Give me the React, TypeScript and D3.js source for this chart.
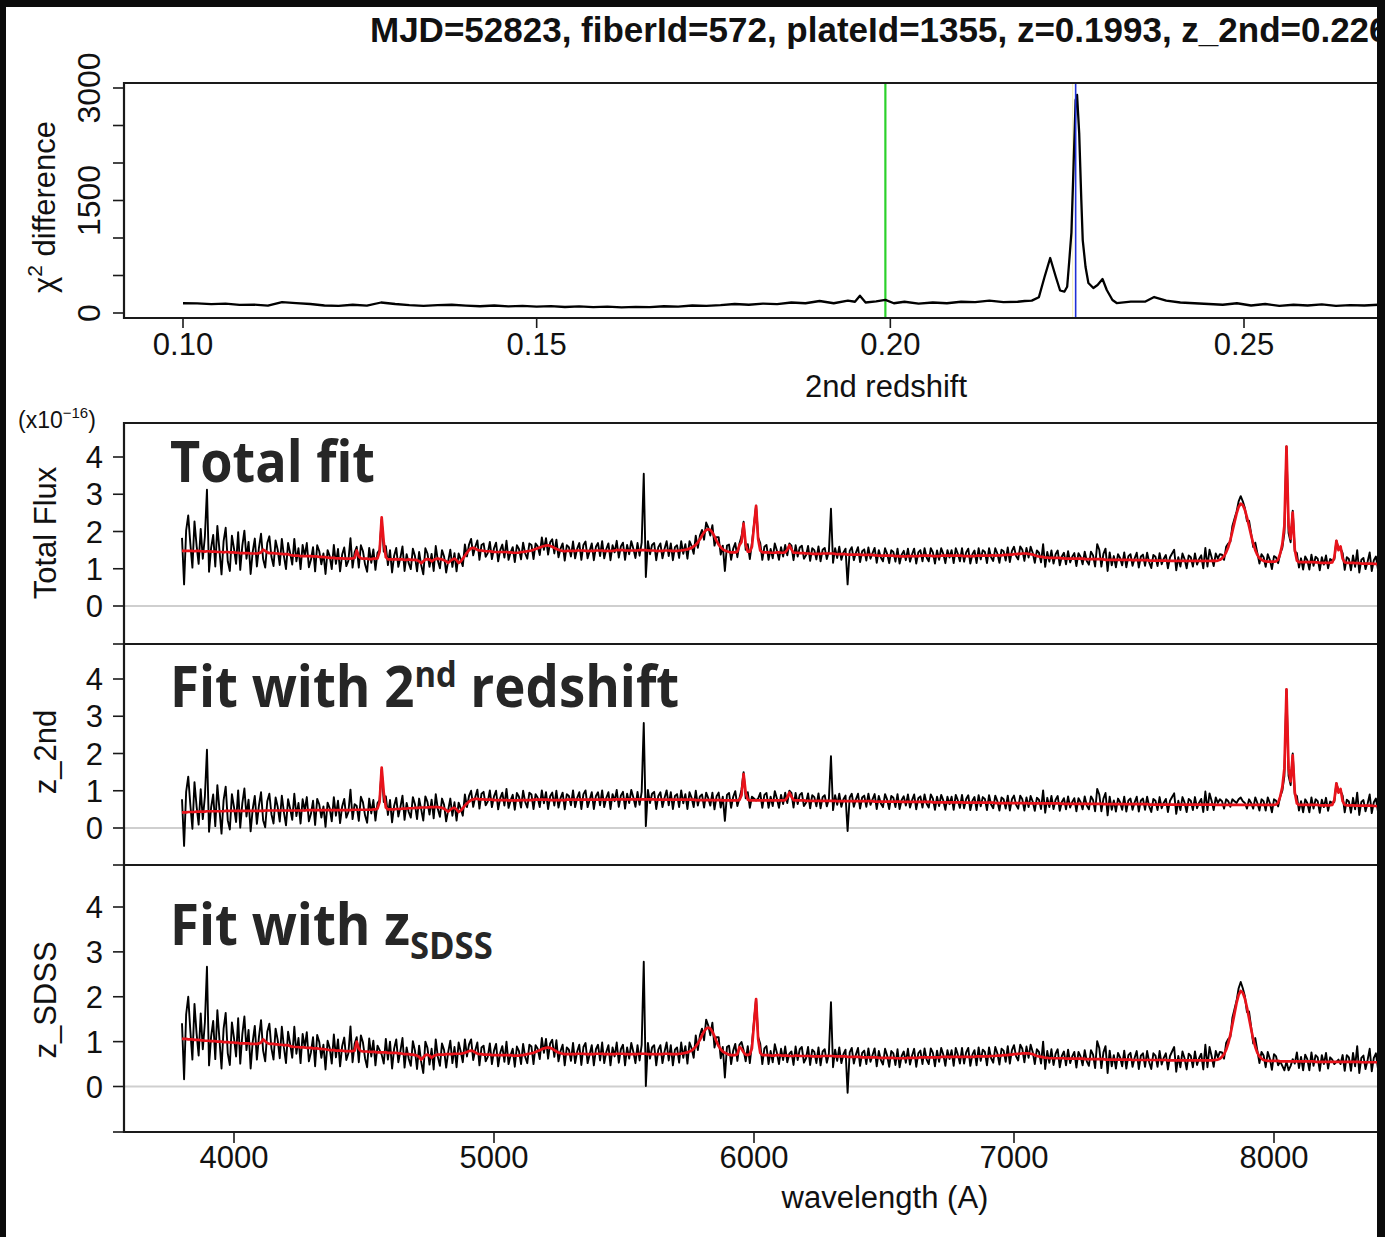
import React from 'react';
import * as d3 from 'd3';

const W = 1385;
const H = 1237;

// χ² difference of the two-redshift fit against the trial second redshift: [z, Δχ²]
const chiCurve: [number, number][] = [
  [0.100, 130], [0.102, 128], [0.104, 118], [0.106, 125], [0.108, 108], [0.110, 112], [0.112, 98],
  [0.114, 145], [0.116, 132], [0.118, 120], [0.120, 100], [0.122, 95], [0.124, 110], [0.126, 98],
  [0.128, 140], [0.130, 120], [0.132, 105], [0.134, 95], [0.136, 105], [0.138, 110], [0.140, 98],
  [0.142, 90], [0.144, 100], [0.146, 88], [0.148, 95], [0.150, 85], [0.152, 92], [0.154, 80],
  [0.156, 88], [0.158, 78], [0.160, 85], [0.162, 75], [0.164, 82], [0.166, 78], [0.168, 90],
  [0.170, 85], [0.172, 100], [0.174, 95], [0.176, 105], [0.178, 120], [0.180, 110], [0.182, 125],
  [0.184, 118], [0.186, 140], [0.188, 130], [0.190, 160], [0.192, 130], [0.194, 165], [0.1950, 150],
  [0.1957, 230], [0.1965, 140], [0.198, 155], [0.1993, 175], [0.2005, 130], [0.202, 150], [0.204, 125],
  [0.206, 140], [0.208, 130], [0.210, 150], [0.212, 145], [0.214, 165], [0.216, 145], [0.218, 150],
  [0.219, 160], [0.2200, 165], [0.2210, 210], [0.2218, 480], [0.2226, 733], [0.2234, 480], [0.2240, 300],
  [0.2246, 284], [0.2250, 350], [0.2253, 700], [0.2256, 1070], [0.2259, 1950], [0.2262, 2840],
  [0.2264, 2907], [0.2267, 2400], [0.2270, 1507], [0.2272, 973], [0.2276, 613], [0.2280, 400],
  [0.2287, 333], [0.2293, 373], [0.2300, 453], [0.2306, 307], [0.2314, 173], [0.2320, 133],
  [0.234, 151], [0.236, 151], [0.2373, 213], [0.239, 165], [0.241, 140], [0.243, 130], [0.245, 120],
  [0.247, 110], [0.249, 130], [0.251, 100], [0.253, 120], [0.255, 95], [0.257, 110], [0.259, 100],
  [0.261, 115], [0.263, 95], [0.265, 105], [0.267, 100], [0.269, 110], [0.271, 105], [0.273, 100],
];

const zSDSS = 0.1993;
const zSecond = 0.2262;

// Spectrum sampling: 8 Å bins starting at 3800 Å (one row = 80 Å)
const lambdaStart = 3800;
const lambdaStep = 8;

// Observed minus total model, shared by all three panels (1e-16 erg/s/cm²/Å)
const residual = [
  0.35, -0.90, 0.55, 0.95, 0.20, -0.45, 0.80, 0.15, -0.35, 0.60, // 3800
  -0.20, 0.40, 1.65, -0.55, 0.10, 0.45, -0.40, 0.70, 0.05, -0.60, // 3880
  0.30, 0.65, -0.25, -0.50, 0.45, 0.10, -0.30, 0.55, -0.45, 0.20, // 3960
  0.60, -0.15, 0.30, -0.55, 0.05, 0.40, -0.35, 0.15, 0.50, -0.25, // 4040
  -0.45, 0.25, 0.45, -0.10, -0.35, 0.35, 0.10, -0.30, 0.40, -0.05, // 4120
  -0.40, 0.30, 0.05, -0.25, 0.45, -0.15, 0.20, -0.35, 0.30, 0.00, // 4200
  0.35, -0.30, -0.10, 0.25, -0.40, 0.30, 0.15, -0.20, 0.10, -0.45, // 4280
  0.20, 0.05, -0.30, 0.35, -0.15, 0.25, -0.35, 0.10, 0.30, -0.20, // 4360
  -0.05, 0.55, -0.25, 0.15, 0.10, -0.30, 0.35, 0.20, -0.15, -0.35, // 4440
  0.30, -0.10, 0.25, -0.30, 0.15, 0.05, -0.05, -0.25, 0.30, -0.15, // 4520
  0.25, -0.35, 0.10, 0.30, -0.20, 0.05, 0.35, -0.30, 0.15, -0.10, // 4600
  -0.25, 0.30, 0.10, -0.30, 0.25, -0.05, -0.35, 0.30, 0.15, -0.20, // 4680
  0.20, -0.30, 0.35, -0.05, -0.25, 0.25, 0.10, -0.30, 0.05, 0.30, // 4760
  -0.20, 0.15, -0.30, 0.25, 0.05, -0.20, 0.30, -0.10, 0.15, 0.25, // 4840
  -0.20, 0.05, 0.25, -0.25, 0.15, 0.20, -0.15, -0.05, 0.25, -0.20, // 4920
  0.10, 0.25, -0.25, 0.05, 0.20, -0.15, 0.30, -0.20, 0.00, 0.15, // 5000
  -0.25, 0.20, 0.10, -0.20, 0.25, -0.05, -0.20, 0.20, 0.15, -0.25, // 5080
  0.15, 0.05, -0.20, 0.25, -0.10, 0.20, -0.25, 0.10, 0.20, -0.15, // 5160
  0.25, -0.20, 0.05, 0.20, -0.25, 0.15, 0.10, -0.15, 0.25, -0.20, // 5240
  0.05, 0.20, -0.25, 0.15, 0.25, -0.20, 0.00, 0.20, -0.25, 0.10, // 5320
  0.20, -0.15, 0.25, -0.20, 0.05, 0.20, -0.25, 0.15, -0.05, 0.25, // 5400
  -0.20, 0.10, 0.20, -0.25, 0.15, -0.10, 0.25, 0.05, -0.20, 0.20, // 5480
  -0.15, 0.20, 2.05, -0.72, 0.25, -0.10, 0.15, 0.20, -0.25, 0.10, // 5560
  0.20, -0.20, 0.05, 0.25, -0.15, 0.20, -0.25, 0.10, 0.15, -0.20, // 5640
  0.25, -0.10, 0.15, -0.25, 0.20, 0.05, -0.20, 0.25, -0.15, 0.10, // 5720
  0.15, -0.20, 0.20, 0.05, -0.15, 0.20, -0.25, 0.10, 0.20, -0.20, // 5800
  0.10, -0.55, 0.15, 0.20, -0.20, 0.10, 0.25, -0.15, 0.05, 0.15, // 5880
  0.05, -0.15, 0.20, -0.20, 0.10, 0.05, 0.00, 0.05, 0.20, -0.20, // 5960
  0.15, 0.20, -0.20, 0.10, -0.15, 0.25, 0.05, -0.20, 0.15, -0.10, // 6040
  0.20, -0.15, 0.05, 0.10, -0.20, 0.20, -0.10, 0.15, 0.20, -0.15, // 6120
  -0.05, 0.20, -0.20, 0.15, 0.10, -0.15, 0.20, -0.20, 0.10, 0.15, // 6200
  -0.15, 0.05, 1.20, -0.25, 0.15, -0.10, 0.20, -0.15, 0.05, 0.15, // 6280
  -0.80, 0.10, 0.20, -0.15, 0.05, 0.20, -0.20, 0.10, 0.15, -0.15, // 6360
  0.20, -0.10, 0.05, 0.20, -0.20, 0.15, -0.05, -0.15, 0.20, 0.05, // 6440
  -0.20, 0.15, 0.10, -0.15, 0.20, -0.20, 0.05, 0.15, -0.10, 0.20, // 6520
  -0.15, 0.05, 0.20, -0.20, 0.10, 0.15, -0.15, 0.20, -0.05, -0.15, // 6600
  0.20, 0.10, -0.20, 0.15, -0.10, 0.20, 0.05, -0.20, 0.15, -0.05, // 6680
  0.15, -0.20, 0.20, 0.05, -0.15, 0.20, -0.15, 0.10, 0.20, -0.20, // 6760
  0.05, 0.15, -0.20, 0.20, -0.10, 0.15, 0.10, -0.20, 0.20, -0.05, // 6840
  -0.15, 0.20, 0.05, -0.20, 0.15, 0.10, -0.15, 0.20, -0.20, 0.10, // 6920
  0.20, -0.05, -0.15, 0.20, 0.10, -0.20, 0.15, -0.10, 0.20, 0.05, // 7000
  -0.20, 0.15, 0.10, -0.15, 0.35, -0.25, 0.15, -0.10, 0.20, -0.15, // 7080
  0.10, 0.20, -0.20, 0.05, 0.15, -0.15, 0.20, -0.10, 0.05, 0.15, // 7160
  -0.20, 0.15, 0.05, -0.15, 0.20, -0.05, -0.15, 0.20, 0.10, -0.20, // 7240
  0.40, 0.25, -0.20, 0.15, 0.30, -0.30, 0.20, -0.15, 0.10, -0.20, // 7320
  0.15, 0.05, -0.15, 0.20, -0.20, 0.10, 0.15, -0.15, 0.05, 0.20, // 7400
  -0.20, 0.10, 0.15, -0.15, 0.20, -0.05, -0.20, 0.15, 0.10, -0.15, // 7480
  0.20, -0.10, 0.05, 0.15, -0.20, 0.10, 0.20, 0.30, -0.25, 0.10, // 7560
  -0.15, 0.20, 0.05, -0.20, 0.15, 0.10, -0.15, 0.20, -0.10, 0.05, // 7640
  0.15, -0.20, 0.35, -0.15, 0.30, 0.10, -0.15, 0.20, 0.05, 0.15, // 7720
  0.10, -0.10, 0.15, 0.10, -0.05, 0.15, 0.10, 0.05, 0.15, 0.20, // 7800
  0.10, 0.05, -0.10, 0.15, 0.05, -0.10, 0.20, 0.05, -0.15, 0.15, // 7880
  0.10, -0.15, 0.20, 0.05, -0.20, 0.15, 0.10, -0.10, 0.00, -0.10, // 7960
  -0.20, 0.00, -0.20, -0.10, 0.05, -0.05, 0.20, -0.15, 0.10, -0.20, // 8040
  0.15, 0.05, -0.20, 0.20, -0.10, 0.15, 0.10, -0.20, 0.15, -0.05, // 8120
  0.20, -0.15, 0.10, 0.05, -0.05, 0.00, 0.05, -0.05, 0.15, -0.20, // 8200
  0.15, 0.10, -0.20, 0.20, -0.10, 0.35, -0.25, 0.10, 0.15, -0.15, // 8280
  0.05, 0.30, -0.20, 0.10, 0.20, -0.15, 0.10, -0.10, // 8360
];

// Model component at z_SDSS
const modelSDSS = [
  1.06, 1.06, 1.06, 1.05, 1.05, 1.05, 1.04, 1.04, 1.04, 1.03, // 3800
  1.03, 1.02, 1.02, 1.02, 1.01, 1.01, 1.01, 1.00, 1.00, 1.00, // 3880
  0.99, 0.99, 0.99, 0.98, 0.98, 0.98, 0.97, 0.97, 0.96, 0.96, // 3960
  0.96, 0.96, 0.96, 0.95, 0.95, 0.95, 0.95, 0.96, 0.98, 1.05, // 4040
  1.01, 0.97, 0.95, 0.95, 0.95, 0.94, 0.94, 0.93, 0.93, 0.92, // 4120
  0.92, 0.92, 0.90, 0.89, 0.88, 0.88, 0.88, 0.87, 0.87, 0.87, // 4200
  0.86, 0.86, 0.86, 0.85, 0.85, 0.85, 0.84, 0.84, 0.83, 0.83, // 4280
  0.82, 0.81, 0.81, 0.81, 0.80, 0.80, 0.80, 0.80, 0.79, 0.79, // 4360
  0.79, 0.79, 0.79, 0.80, 1.00, 0.84, 0.79, 0.78, 0.78, 0.78, // 4440
  0.77, 0.77, 0.77, 0.77, 0.76, 0.76, 0.76, 0.76, 0.76, 0.75, // 4520
  0.75, 0.75, 0.75, 0.75, 0.74, 0.74, 0.73, 0.72, 0.72, 0.72, // 4600
  0.71, 0.71, 0.70, 0.69, 0.66, 0.60, 0.65, 0.70, 0.71, 0.69, // 4680
  0.64, 0.68, 0.70, 0.71, 0.71, 0.71, 0.71, 0.72, 0.72, 0.72, // 4760
  0.72, 0.73, 0.73, 0.73, 0.73, 0.74, 0.75, 0.77, 0.79, 0.80, // 4840
  0.79, 0.76, 0.73, 0.72, 0.72, 0.71, 0.71, 0.71, 0.71, 0.70, // 4920
  0.70, 0.70, 0.70, 0.70, 0.70, 0.70, 0.70, 0.70, 0.70, 0.69, // 5000
  0.69, 0.69, 0.69, 0.70, 0.70, 0.71, 0.72, 0.73, 0.74, 0.75, // 5080
  0.77, 0.79, 0.81, 0.83, 0.85, 0.86, 0.87, 0.86, 0.84, 0.81, // 5160
  0.78, 0.76, 0.74, 0.73, 0.72, 0.72, 0.72, 0.72, 0.72, 0.72, // 5240
  0.73, 0.73, 0.73, 0.73, 0.72, 0.72, 0.72, 0.72, 0.72, 0.73, // 5320
  0.73, 0.73, 0.73, 0.72, 0.72, 0.72, 0.72, 0.72, 0.72, 0.73, // 5400
  0.73, 0.73, 0.73, 0.72, 0.72, 0.72, 0.72, 0.72, 0.72, 0.72, // 5480
  0.73, 0.73, 0.73, 0.73, 0.72, 0.72, 0.72, 0.72, 0.72, 0.72, // 5560
  0.72, 0.72, 0.73, 0.73, 0.73, 0.72, 0.72, 0.72, 0.72, 0.73, // 5640
  0.73, 0.74, 0.75, 0.76, 0.78, 0.80, 0.84, 0.89, 0.96, 1.04, // 5720
  1.14, 1.23, 1.29, 1.31, 1.29, 1.22, 1.12, 1.00, 0.90, 0.83, // 5800
  0.78, 0.75, 0.73, 0.71, 0.70, 0.70, 0.70, 0.72, 0.88, 0.84, // 5880
  0.76, 0.71, 0.70, 0.72, 0.85, 1.40, 1.95, 1.05, 0.75, 0.70, // 5960
  0.70, 0.70, 0.70, 0.69, 0.69, 0.69, 0.70, 0.70, 0.69, 0.69, // 6040
  0.69, 0.69, 0.68, 0.68, 0.68, 0.69, 0.69, 0.68, 0.68, 0.68, // 6120
  0.68, 0.68, 0.68, 0.67, 0.67, 0.67, 0.67, 0.67, 0.68, 0.68, // 6200
  0.68, 0.68, 0.68, 0.68, 0.67, 0.67, 0.67, 0.67, 0.67, 0.67, // 6280
  0.66, 0.66, 0.66, 0.66, 0.66, 0.66, 0.66, 0.65, 0.65, 0.65, // 6360
  0.65, 0.65, 0.65, 0.65, 0.65, 0.64, 0.64, 0.64, 0.64, 0.64, // 6440
  0.64, 0.64, 0.64, 0.63, 0.63, 0.63, 0.63, 0.63, 0.63, 0.64, // 6520
  0.64, 0.64, 0.64, 0.64, 0.64, 0.65, 0.65, 0.65, 0.65, 0.65, // 6600
  0.65, 0.65, 0.65, 0.65, 0.65, 0.66, 0.66, 0.66, 0.66, 0.66, // 6680
  0.66, 0.66, 0.66, 0.66, 0.66, 0.66, 0.66, 0.66, 0.66, 0.66, // 6760
  0.66, 0.66, 0.67, 0.67, 0.67, 0.67, 0.67, 0.67, 0.67, 0.68, // 6840
  0.68, 0.68, 0.69, 0.69, 0.69, 0.70, 0.70, 0.70, 0.71, 0.71, // 6920
  0.72, 0.72, 0.73, 0.73, 0.74, 0.74, 0.74, 0.74, 0.73, 0.72, // 7000
  0.70, 0.68, 0.67, 0.66, 0.65, 0.64, 0.64, 0.63, 0.63, 0.63, // 7080
  0.63, 0.63, 0.63, 0.63, 0.63, 0.62, 0.62, 0.62, 0.62, 0.62, // 7160
  0.62, 0.62, 0.62, 0.62, 0.61, 0.61, 0.61, 0.61, 0.61, 0.61, // 7240
  0.61, 0.61, 0.61, 0.61, 0.60, 0.60, 0.60, 0.60, 0.60, 0.60, // 7320
  0.60, 0.60, 0.60, 0.60, 0.60, 0.60, 0.60, 0.59, 0.59, 0.59, // 7400
  0.59, 0.59, 0.59, 0.59, 0.59, 0.59, 0.59, 0.59, 0.59, 0.59, // 7480
  0.59, 0.59, 0.59, 0.59, 0.58, 0.58, 0.58, 0.58, 0.58, 0.58, // 7560
  0.58, 0.58, 0.58, 0.58, 0.58, 0.58, 0.58, 0.58, 0.58, 0.58, // 7640
  0.58, 0.58, 0.58, 0.58, 0.58, 0.58, 0.59, 0.59, 0.60, 0.62, // 7720
  0.66, 0.72, 0.82, 0.96, 1.15, 1.38, 1.62, 1.86, 2.04, 2.13, // 7800
  2.09, 1.96, 1.76, 1.52, 1.28, 1.06, 0.88, 0.75, 0.67, 0.62, // 7880
  0.59, 0.58, 0.57, 0.57, 0.57, 0.57, 0.57, 0.57, 0.56, 0.56, // 7960
  0.56, 0.56, 0.56, 0.56, 0.56, 0.56, 0.56, 0.56, 0.56, 0.56, // 8040
  0.56, 0.56, 0.56, 0.56, 0.56, 0.55, 0.55, 0.55, 0.55, 0.55, // 8120
  0.55, 0.55, 0.55, 0.55, 0.55, 0.55, 0.55, 0.55, 0.55, 0.55, // 8200
  0.55, 0.55, 0.55, 0.55, 0.55, 0.55, 0.55, 0.54, 0.54, 0.54, // 8280
  0.54, 0.54, 0.54, 0.54, 0.54, 0.54, 0.54, 0.54, // 8360
];

// Model component at the second redshift
const modelSecond = [
  0.42, 0.42, 0.42, 0.43, 0.43, 0.43, 0.43, 0.44, 0.44, 0.44, // 3800
  0.44, 0.44, 0.45, 0.45, 0.45, 0.45, 0.45, 0.45, 0.45, 0.45, // 3880
  0.45, 0.46, 0.46, 0.46, 0.46, 0.46, 0.46, 0.46, 0.46, 0.46, // 3960
  0.46, 0.46, 0.46, 0.46, 0.46, 0.46, 0.46, 0.46, 0.46, 0.46, // 4040
  0.47, 0.47, 0.47, 0.47, 0.47, 0.47, 0.47, 0.47, 0.47, 0.47, // 4120
  0.47, 0.47, 0.47, 0.47, 0.47, 0.47, 0.47, 0.47, 0.47, 0.47, // 4200
  0.48, 0.48, 0.48, 0.48, 0.48, 0.48, 0.48, 0.48, 0.48, 0.48, // 4280
  0.48, 0.48, 0.48, 0.48, 0.48, 0.48, 0.48, 0.48, 0.48, 0.48, // 4360
  0.48, 0.48, 0.49, 0.49, 0.49, 0.49, 0.49, 0.49, 0.49, 0.49, // 4440
  0.49, 0.49, 0.50, 0.50, 0.52, 0.70, 1.62, 0.95, 0.55, 0.50, // 4520
  0.50, 0.50, 0.50, 0.51, 0.51, 0.51, 0.52, 0.52, 0.52, 0.53, // 4600
  0.53, 0.53, 0.54, 0.54, 0.54, 0.55, 0.55, 0.55, 0.55, 0.56, // 4680
  0.56, 0.56, 0.56, 0.56, 0.55, 0.54, 0.52, 0.48, 0.44, 0.49, // 4760
  0.53, 0.54, 0.50, 0.43, 0.47, 0.53, 0.60, 0.66, 0.71, 0.75, // 4840
  0.77, 0.78, 0.78, 0.77, 0.77, 0.77, 0.76, 0.76, 0.76, 0.76, // 4920
  0.75, 0.75, 0.75, 0.75, 0.75, 0.75, 0.75, 0.74, 0.74, 0.74, // 5000
  0.74, 0.74, 0.74, 0.75, 0.75, 0.75, 0.75, 0.75, 0.75, 0.76, // 5080
  0.76, 0.76, 0.76, 0.76, 0.76, 0.76, 0.76, 0.75, 0.75, 0.75, // 5160
  0.75, 0.75, 0.75, 0.75, 0.75, 0.76, 0.76, 0.76, 0.76, 0.76, // 5240
  0.76, 0.76, 0.76, 0.76, 0.76, 0.76, 0.76, 0.76, 0.76, 0.76, // 5320
  0.76, 0.76, 0.76, 0.76, 0.76, 0.76, 0.76, 0.76, 0.77, 0.77, // 5400
  0.77, 0.77, 0.77, 0.77, 0.77, 0.77, 0.77, 0.77, 0.77, 0.77, // 5480
  0.77, 0.77, 0.77, 0.77, 0.77, 0.77, 0.77, 0.77, 0.76, 0.76, // 5560
  0.76, 0.76, 0.76, 0.76, 0.76, 0.76, 0.76, 0.76, 0.76, 0.76, // 5640
  0.76, 0.76, 0.76, 0.76, 0.76, 0.76, 0.76, 0.75, 0.75, 0.75, // 5720
  0.75, 0.75, 0.75, 0.75, 0.75, 0.75, 0.75, 0.75, 0.75, 0.75, // 5800
  0.74, 0.74, 0.74, 0.74, 0.74, 0.74, 0.74, 0.74, 0.75, 0.88, // 5880
  1.45, 0.95, 0.76, 0.74, 0.74, 0.74, 0.74, 0.74, 0.74, 0.74, // 5960
  0.74, 0.74, 0.74, 0.74, 0.74, 0.74, 0.74, 0.74, 0.74, 0.74, // 6040
  0.75, 0.82, 0.95, 0.84, 0.75, 0.74, 0.74, 0.74, 0.74, 0.74, // 6120
  0.73, 0.73, 0.73, 0.73, 0.73, 0.73, 0.73, 0.73, 0.73, 0.73, // 6200
  0.73, 0.73, 0.73, 0.73, 0.73, 0.72, 0.72, 0.72, 0.72, 0.72, // 6280
  0.72, 0.72, 0.72, 0.72, 0.72, 0.72, 0.72, 0.72, 0.72, 0.72, // 6360
  0.72, 0.72, 0.72, 0.71, 0.71, 0.71, 0.71, 0.71, 0.71, 0.71, // 6440
  0.71, 0.71, 0.71, 0.71, 0.71, 0.71, 0.70, 0.70, 0.70, 0.70, // 6520
  0.70, 0.70, 0.70, 0.70, 0.70, 0.70, 0.70, 0.70, 0.70, 0.70, // 6600
  0.70, 0.69, 0.69, 0.69, 0.69, 0.69, 0.69, 0.69, 0.69, 0.69, // 6680
  0.69, 0.69, 0.69, 0.69, 0.69, 0.69, 0.68, 0.68, 0.68, 0.68, // 6760
  0.68, 0.68, 0.68, 0.68, 0.68, 0.68, 0.68, 0.68, 0.68, 0.68, // 6840
  0.68, 0.67, 0.67, 0.67, 0.67, 0.67, 0.67, 0.67, 0.67, 0.67, // 6920
  0.67, 0.67, 0.67, 0.67, 0.67, 0.67, 0.67, 0.66, 0.66, 0.66, // 7000
  0.66, 0.66, 0.66, 0.66, 0.66, 0.66, 0.66, 0.66, 0.66, 0.66, // 7080
  0.66, 0.66, 0.66, 0.65, 0.65, 0.65, 0.65, 0.65, 0.65, 0.65, // 7160
  0.65, 0.65, 0.65, 0.65, 0.65, 0.65, 0.65, 0.65, 0.65, 0.65, // 7240
  0.65, 0.65, 0.65, 0.64, 0.64, 0.64, 0.64, 0.64, 0.64, 0.64, // 7320
  0.64, 0.64, 0.64, 0.64, 0.64, 0.64, 0.64, 0.64, 0.64, 0.64, // 7400
  0.64, 0.64, 0.64, 0.64, 0.64, 0.63, 0.63, 0.63, 0.63, 0.63, // 7480
  0.63, 0.63, 0.63, 0.63, 0.63, 0.63, 0.63, 0.63, 0.63, 0.63, // 7560
  0.63, 0.63, 0.63, 0.63, 0.63, 0.63, 0.63, 0.63, 0.63, 0.63, // 7640
  0.63, 0.63, 0.63, 0.63, 0.63, 0.63, 0.63, 0.62, 0.62, 0.62, // 7720
  0.62, 0.62, 0.62, 0.62, 0.62, 0.62, 0.62, 0.62, 0.62, 0.62, // 7800
  0.62, 0.62, 0.62, 0.62, 0.62, 0.62, 0.62, 0.62, 0.62, 0.62, // 7880
  0.62, 0.62, 0.62, 0.62, 0.62, 0.62, 0.63, 0.68, 0.85, 1.10, // 7960
  1.60, 3.72, 1.60, 1.25, 1.95, 0.95, 0.66, 0.62, 0.62, 0.62, // 8040
  0.62, 0.62, 0.62, 0.62, 0.62, 0.62, 0.62, 0.61, 0.61, 0.61, // 8120
  0.61, 0.61, 0.61, 0.62, 0.75, 1.20, 0.95, 1.05, 0.72, 0.62, // 8200
  0.61, 0.61, 0.61, 0.61, 0.60, 0.60, 0.60, 0.60, 0.60, 0.60, // 8280
  0.60, 0.60, 0.60, 0.59, 0.59, 0.59, 0.59, 0.59, // 8360
];

const redshiftTicks = [0.10, 0.15, 0.20, 0.25];
const chiTicks = [0, 500, 1000, 1500, 2000, 2500, 3000];
const chiTickLabels = [0, 1500, 3000];
const fluxTicks = [0, 1, 2, 3, 4];
const waveTicks = [4000, 5000, 6000, 7000, 8000];

const titleText = 'MJD=52823, fiberId=572, plateId=1355, z=0.1993, z_2nd=0.2262';

const SANS = '"Liberation Sans", Arial, Helvetica, sans-serif';
const BOLD_LABEL = '"Open Sans", "Noto Sans", sans-serif';
const AXIS = '#1a1a1a';
const LABEL_FILL = '#262626';

const PLOT_LEFT = 124;
const PLOT_RIGHT = 1400;

export default function App() {
  const xz = d3.scaleLinear().domain([0.10, 0.25]).range([183, 1244]);
  const ychi = d3.scaleLinear().domain([0, 3000]).range([313, 88]);
  const xw = d3.scaleLinear().domain([4000, 8000]).range([234, 1274]);

  const n = Math.min(residual.length, modelSDSS.length, modelSecond.length);
  const wavelengths = d3.range(n).map((i) => lambdaStart + i * lambdaStep);
  const modelTotal = d3.range(n).map((i) => modelSDSS[i] + modelSecond[i]);

  const panels = [
    { id: 'total', label: 'Total Flux', top: 423, bottom: 644, range: [606, 457], model: modelTotal },
    { id: 'second', label: 'z_2nd', top: 644, bottom: 865, range: [828, 679], model: modelSecond.slice(0, n) },
    { id: 'sdss', label: 'z_SDSS', top: 865, bottom: 1132, range: [1086.5, 907], model: modelSDSS.slice(0, n) },
  ];
  const labelCenters = [533, 752, 1000];

  const chiLine = d3
    .line<[number, number]>()
    .x((d) => xz(d[0]))
    .y((d) => ychi(d[1]));

  const specLine = (y: d3.ScaleLinear<number, number>) =>
    d3
      .line<number>()
      .defined((v) => Number.isFinite(v))
      .x((_, i) => xw(wavelengths[i]))
      .y((v) => y(v));

  return (
    <svg
      width={W}
      height={H}
      viewBox={`0 0 ${W} ${H}`}
      style={{ position: 'absolute', left: 0, top: 0, display: 'block' }}
      fontFamily={SANS}
    >
      <defs>
        <clipPath id="clip-chi">
          <rect x={PLOT_LEFT} y={83} width={PLOT_RIGHT - PLOT_LEFT} height={318 - 83} />
        </clipPath>
        {panels.map((p) => (
          <clipPath id={`clip-${p.id}`} key={p.id}>
            <rect x={PLOT_LEFT} y={p.top} width={PLOT_RIGHT - PLOT_LEFT} height={p.bottom - p.top} />
          </clipPath>
        ))}
      </defs>
      <rect x={0} y={0} width={W} height={H} fill="#ffffff" />

      {/* Title */}
      <text x={370} y={42} fontSize={35} fontWeight={700} fill="#111">
        {titleText}
      </text>

      {/* ---------- χ² difference panel ---------- */}
      <g clipPath="url(#clip-chi)">
        <line x1={xz(zSDSS)} x2={xz(zSDSS)} y1={83} y2={318} stroke="#2bd12b" strokeWidth={2.2} />
        <line x1={xz(zSecond) - 3} x2={xz(zSecond) - 3} y1={83} y2={318} stroke="#f4efb8" strokeWidth={1} />
        <path d={chiLine(chiCurve) ?? ''} fill="none" stroke="#000" strokeWidth={2.3} strokeLinejoin="round" />
        <line x1={xz(zSecond)} x2={xz(zSecond)} y1={83} y2={318} stroke="#1f2fd6" strokeWidth={1.6} />
      </g>
      <line x1={PLOT_LEFT} x2={PLOT_RIGHT} y1={83} y2={83} stroke={AXIS} strokeWidth={2.2} />
      <line x1={PLOT_LEFT} x2={PLOT_RIGHT} y1={318} y2={318} stroke={AXIS} strokeWidth={2.2} />
      <line x1={PLOT_LEFT} x2={PLOT_LEFT} y1={82} y2={319} stroke={AXIS} strokeWidth={2.2} />
      {chiTicks.map((t) => (
        <line key={`ct${t}`} x1={113} x2={PLOT_LEFT} y1={ychi(t)} y2={ychi(t)} stroke={AXIS} strokeWidth={1.6} />
      ))}
      {chiTickLabels.map((t) => (
        <text
          key={`cl${t}`}
          transform={`translate(100,${ychi(t)}) rotate(-90)`}
          textAnchor="middle"
          fontSize={32}
          fill="#111"
        >
          {t}
        </text>
      ))}
      {redshiftTicks.map((t) => (
        <g key={`zt${t}`}>
          <line x1={xz(t)} x2={xz(t)} y1={318} y2={328} stroke={AXIS} strokeWidth={1.6} />
          <text x={xz(t)} y={355} textAnchor="middle" fontSize={31} fill="#111">
            {d3.format('.2f')(t)}
          </text>
        </g>
      ))}
      <text x={886} y={397} textAnchor="middle" fontSize={31} fill="#111">
        2nd redshift
      </text>
      <text transform="translate(55,207) rotate(-90)" textAnchor="middle" fontSize={31} fill="#111">
        χ
        <tspan fontSize={21} dy={-13}>2</tspan>
        <tspan dy={13}> difference</tspan>
      </text>

      {/* ---------- spectrum panels ---------- */}
      <text x={18} y={428} fontSize={23} fill="#111">
        (x10
        <tspan fontSize={15} dy={-10}>−16</tspan>
        <tspan dy={10}>)</tspan>
      </text>
      {panels.map((p, k) => {
        const y = d3.scaleLinear().domain([0, 4]).range(p.range);
        const line = specLine(y);
        const observed = p.model.map((v, i) => v + residual[i]);
        return (
          <g key={p.id}>
            <g clipPath={`url(#clip-${p.id})`}>
              <line x1={PLOT_LEFT} x2={PLOT_RIGHT} y1={y(0)} y2={y(0)} stroke="#cfcfcf" strokeWidth={2} />
              <path d={line(observed) ?? ''} fill="none" stroke="#000" strokeWidth={1.9} strokeLinejoin="round" />
              <path d={line(p.model) ?? ''} fill="none" stroke="#e8131b" strokeWidth={2.7} strokeLinejoin="round" />
            </g>
            {fluxTicks.map((t) => (
              <g key={`ft${p.id}${t}`}>
                <line x1={113} x2={PLOT_LEFT} y1={y(t)} y2={y(t)} stroke={AXIS} strokeWidth={1.6} />
                <text x={103} y={y(t) + 11} textAnchor="end" fontSize={31} fill="#111">
                  {t}
                </text>
              </g>
            ))}
            <line x1={113} x2={PLOT_LEFT} y1={p.bottom} y2={p.bottom} stroke={AXIS} strokeWidth={1.6} />
            <text
              transform={`translate(56,${labelCenters[k]}) rotate(-90)`}
              textAnchor="middle"
              fontSize={31}
              fill="#111"
            >
              {p.label}
            </text>
          </g>
        );
      })}
      {/* panel frames */}
      {[423, 644, 865, 1132].map((yy) => (
        <line key={`hf${yy}`} x1={PLOT_LEFT} x2={PLOT_RIGHT} y1={yy} y2={yy} stroke={AXIS} strokeWidth={2.2} />
      ))}
      <line x1={PLOT_LEFT} x2={PLOT_LEFT} y1={422} y2={1133} stroke={AXIS} strokeWidth={2.2} />
      {waveTicks.map((t) => (
        <g key={`wt${t}`}>
          <line x1={xw(t)} x2={xw(t)} y1={1132} y2={1143} stroke={AXIS} strokeWidth={1.6} />
          <text x={xw(t)} y={1168} textAnchor="middle" fontSize={31} fill="#111">
            {t}
          </text>
        </g>
      ))}
      <text x={885} y={1208} textAnchor="middle" fontSize={31} fill="#111">
        wavelength (A)
      </text>

      {/* panel captions */}
      <g fontFamily={BOLD_LABEL} fontWeight={700} fill={LABEL_FILL}>
        <g transform="translate(170,482) scale(0.9,1)">
          <text x={0} y={0} fontSize={58}>Total fit</text>
        </g>
        <g transform="translate(170,707) scale(0.91,1)">
          <text x={0} y={0} fontSize={58}>
            Fit with 2
            <tspan fontSize={36} dy={-20}>nd</tspan>
            <tspan dy={20}> redshift</tspan>
          </text>
        </g>
        <g transform="translate(170,945) scale(0.91,1)">
          <text x={0} y={0} fontSize={58}>
            Fit with z
            <tspan fontSize={38} dy={14}>SDSS</tspan>
          </text>
        </g>
      </g>

      {/* slide border */}
      <rect x={0} y={0} width={6} height={H} fill="#0b0b0b" />
      <rect x={0} y={0} width={W} height={7} fill="#0b0b0b" />
      <rect x={1377} y={0} width={8} height={H} fill="#0b0b0b" />
    </svg>
  );
}
